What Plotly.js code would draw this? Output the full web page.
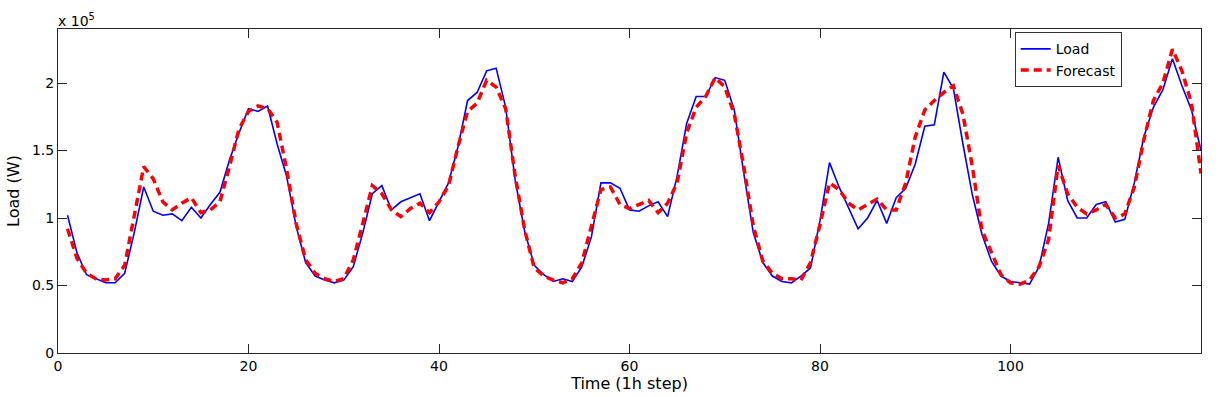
<!DOCTYPE html>
<html>
<head>
<meta charset="utf-8">
<script src="https://cdn.plot.ly/plotly-3.0.1.min.js"></script>
<style>html,body{margin:0;padding:0;background:#fff;}#chart{width:1226px;height:397px;}</style>
</head>
<body>
<div id="chart"></div>
<script>
// Time steps (1 h each)
var timeSteps = [];
for (var i = 1; i <= 120; i++) timeSteps.push(i);

// Measured load, in units of 1e5 W
var loadValues = [
  1.02, 0.74, 0.58, 0.55, 0.52, 0.52, 0.59, 0.89, 1.23, 1.05,
  1.02, 1.03, 0.98, 1.08, 1.00, 1.10, 1.19, 1.43, 1.63, 1.81,
  1.79, 1.83, 1.55, 1.31, 0.94, 0.67, 0.57, 0.54, 0.52, 0.54,
  0.64, 0.89, 1.18, 1.24, 1.06, 1.12, 1.15, 1.18, 0.98, 1.12,
  1.26, 1.53, 1.87, 1.93, 2.09, 2.11, 1.82, 1.28, 0.90, 0.65,
  0.58, 0.53, 0.55, 0.53, 0.64, 0.86, 1.26, 1.26, 1.22, 1.06,
  1.05, 1.09, 1.12, 1.01, 1.31, 1.70, 1.90, 1.90, 2.04, 2.02,
  1.80, 1.33, 0.89, 0.67, 0.57, 0.53, 0.52, 0.57, 0.63, 0.98,
  1.41, 1.23, 1.08, 0.92, 1.00, 1.13, 0.96, 1.15, 1.22, 1.40,
  1.68, 1.69, 2.08, 1.96, 1.55, 1.17, 0.88, 0.68, 0.57, 0.53,
  0.52, 0.51, 0.64, 0.96, 1.45, 1.13, 1.00, 1.00, 1.10, 1.12,
  0.97, 0.99, 1.26, 1.60, 1.82, 1.95, 2.18, 1.98, 1.80, 1.50
];

// Forecast load, in units of 1e5 W
var forecastValues = [
  0.92, 0.70, 0.59, 0.55, 0.54, 0.55, 0.65, 1.01, 1.38, 1.29,
  1.12, 1.06, 1.11, 1.15, 1.04, 1.06, 1.12, 1.38, 1.66, 1.79,
  1.83, 1.81, 1.71, 1.36, 0.96, 0.69, 0.59, 0.55, 0.53, 0.55,
  0.69, 0.96, 1.24, 1.18, 1.06, 1.01, 1.07, 1.11, 1.04, 1.12,
  1.24, 1.53, 1.79, 1.85, 2.02, 1.97, 1.81, 1.31, 0.91, 0.63,
  0.57, 0.54, 0.52, 0.55, 0.67, 0.94, 1.21, 1.23, 1.10, 1.07,
  1.10, 1.13, 1.04, 1.11, 1.26, 1.63, 1.82, 1.90, 2.04, 1.97,
  1.77, 1.38, 0.94, 0.68, 0.59, 0.55, 0.55, 0.54, 0.67, 0.95,
  1.26, 1.21, 1.11, 1.06, 1.10, 1.14, 1.06, 1.06, 1.26, 1.60,
  1.80, 1.87, 1.93, 1.98, 1.77, 1.38, 0.91, 0.74, 0.58, 0.52,
  0.51, 0.54, 0.64, 0.84, 1.39, 1.18, 1.08, 1.03, 1.06, 1.10,
  1.00, 1.03, 1.23, 1.58, 1.87, 2.00, 2.25, 2.09, 1.85, 1.33
];

var xTickVals = [0, 20, 40, 60, 80, 100];
var yTickVals = [0, 0.5, 1, 1.5, 2];
var yTickText = ['0', '0.5', '1', '1.5', '2'];

var FONT = 'DejaVu Sans, Verdana, sans-serif';

var traces = [
  {
    x: timeSteps, y: loadValues, type: 'scatter', mode: 'lines', name: 'Load',
    line: {color: '#0000ff', width: 1.6}
  },
  {
    x: timeSteps, y: forecastValues, type: 'scatter', mode: 'lines', name: 'Forecast',
    line: {color: '#ff0000', width: 3.5, dash: '8px,5px'}
  }
];

var axisCommon = {
  showgrid: false, zeroline: false, showline: true, linecolor: '#262626', linewidth: 1,
  mirror: 'ticks', ticks: 'inside', ticklen: 9, tickcolor: '#262626', tickwidth: 1,
  tickfont: {family: FONT, size: 14, color: '#000'}
};

var layout = {
  width: 1226, height: 397,
  margin: {l: 58, r: 25, t: 29, b: 44},
  paper_bgcolor: '#fff', plot_bgcolor: '#fff',
  font: {family: FONT, color: '#000'},
  showlegend: true,
  legend: {
    x: 0.837, y: 0.99, xanchor: 'left', yanchor: 'top',
    bgcolor: '#fff', bordercolor: '#333', borderwidth: 1,
    font: {family: FONT, size: 14, color: '#000'},
    tracegroupgap: 0, itemwidth: 30
  },
  xaxis: Object.assign({}, axisCommon, {
    range: [0, 120], tickvals: xTickVals, ticktext: xTickVals.map(String),
    title: {text: 'Time (1h step)', font: {family: FONT, size: 16, color: '#000'}, standoff: 0}
  }),
  yaxis: Object.assign({}, axisCommon, {
    range: [0, 2.4], tickvals: yTickVals, ticktext: yTickText,
    title: {text: 'Load (W)', font: {family: FONT, size: 16, color: '#000'}, standoff: 8}
  }),
  annotations: [{
    xref: 'paper', yref: 'paper', x: 0, y: 1, xanchor: 'left', yanchor: 'bottom',
    text: 'x 10<sup>5</sup>', showarrow: false,
    font: {family: FONT, size: 14, color: '#000'}, xshift: -2, yshift: -2
  }]
};

Plotly.newPlot('chart', traces, layout, {displayModeBar: false, staticPlot: true});
</script>
</body>
</html>
